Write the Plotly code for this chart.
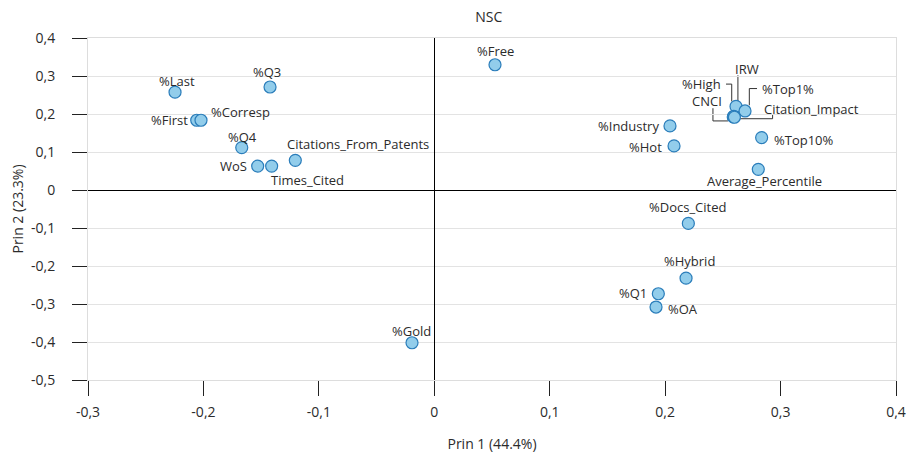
import plotly.graph_objects as go

# ---- data ----
names = ["%Last", "%Q3", "%First", "%Corresp", "%Q4", "WoS", "Times_Cited",
         "Citations_From_Patents", "%Free", "%Gold", "%Industry", "%Hot",
         "%Top10%", "Average_Percentile", "%Docs_Cited", "%Hybrid", "%Q1", "%OA",
         "%High", "%Top1%", "CNCI", "IRW", "Citation_Impact"]
prin1 = [-0.2246, -0.1423, -0.2058, -0.2021, -0.1668, -0.1530, -0.1409,
         -0.1204, 0.0526, -0.0193, 0.2042, 0.2077,
         0.2836, 0.2807, 0.2201, 0.2181, 0.1941, 0.1921,
         0.2614, 0.2692, 0.2590, 0.2595, 0.2600]
prin2 = [0.2575, 0.2710, 0.1836, 0.1836, 0.1116, 0.0630, 0.0630,
         0.0780, 0.3296, -0.4020, 0.1686, 0.1160,
         0.1380, 0.0544, -0.0880, -0.2320, -0.2730, -0.3080,
         0.2200, 0.2080, 0.1923, 0.1940, 0.1915]

x_tickvals = [-0.3, -0.2, -0.1, 0, 0.1, 0.2, 0.3, 0.4]
x_ticktext = ["-0,3", "-0,2", "-0,1", "0", "0,1", "0,2", "0,3", "0,4"]
y_tickvals = [0.4, 0.3, 0.2, 0.1, 0, -0.1, -0.2, -0.3, -0.4, -0.5]
y_ticktext = ["0,4", "0,3", "0,2", "0,1", "0", "-0,1", "-0,2", "-0,3", "-0,4", "-0,5"]

title_text = "NSC"
x_title = "Prin 1 (44.4%)"
y_title = "Prin 2 (23.3%)"

# ---- label placement (styling): anchor, dx (right +), dy (down +) in px ----
label_pos = {
    "%Last": ("center", 2, -11),
    "%Q3": ("center", -3, -15),
    "%First": ("right", -7, 0),
    "%Corresp": ("left", 8, -8),
    "%Q4": ("center", 1, -11),
    "WoS": ("right", -9, 0),
    "Times_Cited": ("left", -3, 14),
    "Citations_From_Patents": ("left", -10, -16),
    "%Free": ("center", 0, -14),
    "%Gold": ("center", -1, -12),
    "%Industry": ("right", -9, 0),
    "%Hot": ("right", -10, 1),
    "%Top10%": ("left", 10, 2),
    "Average_Percentile": ("center", 6, 12),
    "%Docs_Cited": ("center", -1, -16),
    "%Hybrid": ("center", 3, -17),
    "%Q1": ("right", -9, -1),
    "%OA": ("left", 10, 2),
    "%High": ("right", -12.7, -22),
    "%Top1%": ("left", 15, -22),
    "CNCI": ("center", -26, -16),
    "IRW": ("center", 13, -47),
    "Citation_Impact": ("left", 28, -8),
}
# leader polylines, pixel offsets from the point (right +, down +)
leaders = {
    "%High": [(-10, -22.3), (-4.3, -22.3), (-4.3, -5)],
    "%Top1%": [(12, -22.4), (4.3, -22.4), (4.3, -5.7)],
    "CNCI": [(-20.3, -8.7), (-20.3, 4), (-5.3, 4)],
    "IRW": [(4.1, -41), (4.1, -6)],
    "Citation_Impact": [(38.2, -3), (38.2, 1.5), (5.5, 1.5)],
}

FONT = "Open Sans"
TXT = "#2B2B2B"

fig = go.Figure()
fig.add_trace(go.Scatter(
    x=prin1, y=prin2, mode="markers", text=names,
    marker=dict(size=12, color="#92CDEB", line=dict(color="#2A7DBA", width=1.2)),
    hoverinfo="text", showlegend=False,
))

annotations = []
shapes = []
for n, xv, yv in zip(names, prin1, prin2):
    anc, dx, dy = label_pos[n]
    annotations.append(dict(
        x=xv, y=yv, xref="x", yref="y", text=n, showarrow=False,
        xanchor=anc, yanchor="middle", xshift=dx, yshift=-dy,
        font=dict(family=FONT, size=13, color=TXT),
    ))
    if n in leaders:
        pts = leaders[n]
        path = "M " + " L ".join(f"{px},{-py}" for px, py in pts)
        shapes.append(dict(
            type="path", xref="x", yref="y", xsizemode="pixel", ysizemode="pixel",
            xanchor=xv, yanchor=yv, path=path,
            line=dict(color="#333333", width=1), layer="below",
        ))

# page body has an 8px default margin, so the figure is sized/margined to compensate
fig.update_layout(
    width=907, height=449,
    margin=dict(l=80, r=19, t=30, b=77, autoexpand=False),
    paper_bgcolor="white", plot_bgcolor="white",
    separators=", ",
    title=dict(text=title_text, x=0.496, xref="paper", y=0.98, yref="container",
               yanchor="middle",
               font=dict(family=FONT, size=14, color=TXT)),
    font=dict(family=FONT, size=14, color=TXT),
    annotations=annotations,
    shapes=shapes,
    xaxis=dict(
        range=[-0.3, 0.4], tickvals=x_tickvals, ticktext=x_ticktext,
        automargin=False,
        showgrid=False, zeroline=True, zerolinecolor="#000000", zerolinewidth=1,
        showline=True, linecolor="#DDDDDD", linewidth=1, mirror=True,
        ticks="outside", ticklen=15, tickcolor="#222222", tickwidth=1,
        ticklabelstandoff=4,
        title=dict(text=x_title, font=dict(family=FONT, size=14, color=TXT), standoff=19),
        tickfont=dict(family=FONT, size=14, color=TXT),
    ),
    yaxis=dict(
        range=[-0.5, 0.4], tickvals=y_tickvals, ticktext=y_ticktext,
        automargin=False,
        showgrid=True, gridcolor="#E3E3E3", gridwidth=1,
        zeroline=True, zerolinecolor="#000000", zerolinewidth=1,
        showline=True, linecolor="#DDDDDD", linewidth=1, mirror=True,
        ticks="outside", ticklen=15, tickcolor="#222222", tickwidth=1,
        ticklabelstandoff=14,
        title=dict(text=y_title, font=dict(family=FONT, size=14, color=TXT), standoff=8),
        tickfont=dict(family=FONT, size=14, color=TXT),
    ),
)

fig.write_html("out.html")
